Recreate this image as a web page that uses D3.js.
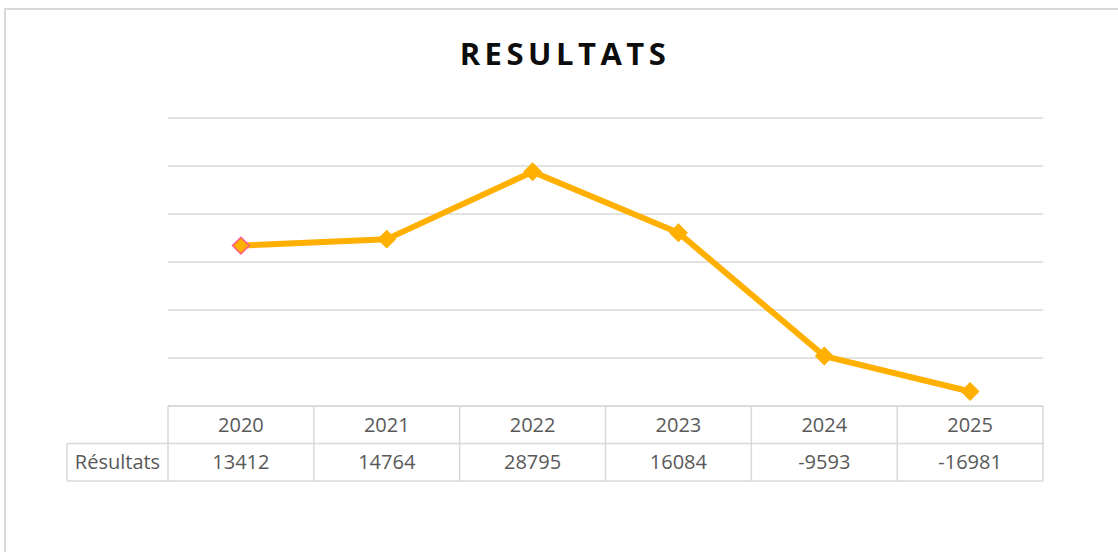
<!DOCTYPE html>
<html>
<head>
<meta charset="utf-8">
<script src="https://cdn.jsdelivr.net/npm/d3@7"></script>
<style>
  body { margin: 0; background: #fff; }
  svg { display: block; font-family: "Open Sans", "Noto Sans", sans-serif; }
</style>
</head>
<body>
<div id="chart"></div>
<script>
// data
const years = ["2020", "2021", "2022", "2023", "2024", "2025"];
const resultats = [13412, 14764, 28795, 16084, -9593, -16981];
const seriesName = "Résultats";
const yTicks = [-20000, -10000, 0, 10000, 20000, 30000, 40000];

const width = 1118, height = 552;
const plotLeft = 168, plotRight = 1043, plotTop = 118, plotBottom = 406;
const rowH = 37.5, labelLeft = 67;

const svg = d3.select("#chart").append("svg")
    .attr("width", width)
    .attr("height", height);

// outer frame
svg.append("rect")
    .attr("x", 5).attr("y", 9)
    .attr("width", width + 20).attr("height", height + 20)
    .attr("fill", "#fff")
    .attr("stroke", "#d9d9d9")
    .attr("stroke-width", 2);

// title
svg.append("text")
    .attr("x", 565).attr("y", 65)
    .attr("text-anchor", "middle")
    .attr("font-size", 31)
    .attr("font-weight", "bold")
    .attr("letter-spacing", "4.5px")
    .attr("fill", "#0d0d0d")
    .text("RESULTATS");

//----------------------------SCALES----------------------------//
const xScale = d3.scaleBand().domain(years).range([plotLeft, plotRight]);
const yScale = d3.scaleLinear().domain([-20000, 40000]).range([plotBottom, plotTop]);

// gridlines
svg.append("g")
    .selectAll("line")
    .data(yTicks)
    .enter().append("line")
    .attr("x1", plotLeft).attr("x2", plotRight)
    .attr("y1", d => yScale(d)).attr("y2", d => yScale(d))
    .attr("stroke", "#d9d9d9")
    .attr("stroke-width", 1.5);

//----------------------------TABLE-----------------------------//
const table = svg.append("g");
const gridColor = "#d9d9d9";
const y0 = yScale(-20000);

// horizontal rules
table.append("line").attr("x1", plotLeft).attr("x2", plotRight)
    .attr("y1", y0).attr("y2", y0).attr("stroke", gridColor).attr("stroke-width", 1.5);
[y0 + rowH, y0 + 2 * rowH].forEach(y => {
  table.append("line").attr("x1", labelLeft).attr("x2", plotRight)
      .attr("y1", y).attr("y2", y).attr("stroke", gridColor).attr("stroke-width", 1.5);
});
// vertical rules
table.append("line").attr("x1", labelLeft).attr("x2", labelLeft)
    .attr("y1", y0 + rowH).attr("y2", y0 + 2 * rowH).attr("stroke", gridColor).attr("stroke-width", 1.5);
years.forEach(y => {
  table.append("line")
      .attr("x1", xScale(y)).attr("x2", xScale(y))
      .attr("y1", y0).attr("y2", y0 + 2 * rowH)
      .attr("stroke", gridColor).attr("stroke-width", 1.5);
});
table.append("line").attr("x1", plotRight).attr("x2", plotRight)
    .attr("y1", y0).attr("y2", y0 + 2 * rowH).attr("stroke", gridColor).attr("stroke-width", 1.5);

// header texts
table.selectAll("text.year")
    .data(years)
    .enter().append("text")
    .attr("class", "year")
    .attr("x", d => xScale(d) + xScale.bandwidth() / 2)
    .attr("y", y0 + rowH / 2 + 7)
    .attr("text-anchor", "middle")
    .attr("font-size", 20)
    .attr("fill", "#595959")
    .text(d => d);

table.selectAll("text.val")
    .data(resultats)
    .enter().append("text")
    .attr("class", "val")
    .attr("x", (d, i) => xScale(years[i]) + xScale.bandwidth() / 2)
    .attr("y", y0 + rowH * 1.5 + 7)
    .attr("text-anchor", "middle")
    .attr("font-size", 20)
    .attr("fill", "#595959")
    .text(d => d);

table.append("text")
    .attr("x", (labelLeft + plotLeft) / 2)
    .attr("y", y0 + rowH * 1.5 + 7)
    .attr("text-anchor", "middle")
    .attr("font-size", 20)
    .attr("fill", "#595959")
    .text(seriesName);

//----------------------------LINE-----------------------------//
const line = d3.line()
    .x((d, i) => xScale(years[i]) + xScale.bandwidth() / 2)
    .y(d => yScale(d));

svg.append("path")
    .datum(resultats)
    .attr("d", line)
    .attr("fill", "none")
    .attr("stroke", "#ffb000")
    .attr("stroke-width", 6)
    .attr("stroke-linejoin", "round");

const diamond = d3.symbol().type(d3.symbolDiamond2).size(180);
svg.append("g")
    .selectAll("path")
    .data(resultats)
    .enter().append("path")
    .attr("d", diamond)
    .attr("transform", (d, i) => "translate(" + (xScale(years[i]) + xScale.bandwidth() / 2) + "," + yScale(d) + ")")
    .attr("fill", "#ffb000")
    .attr("stroke", (d, i) => i === 0 ? "#ff5a8c" : "#ffb000")
    .attr("stroke-width", 1.5);
</script>
</body>
</html>
